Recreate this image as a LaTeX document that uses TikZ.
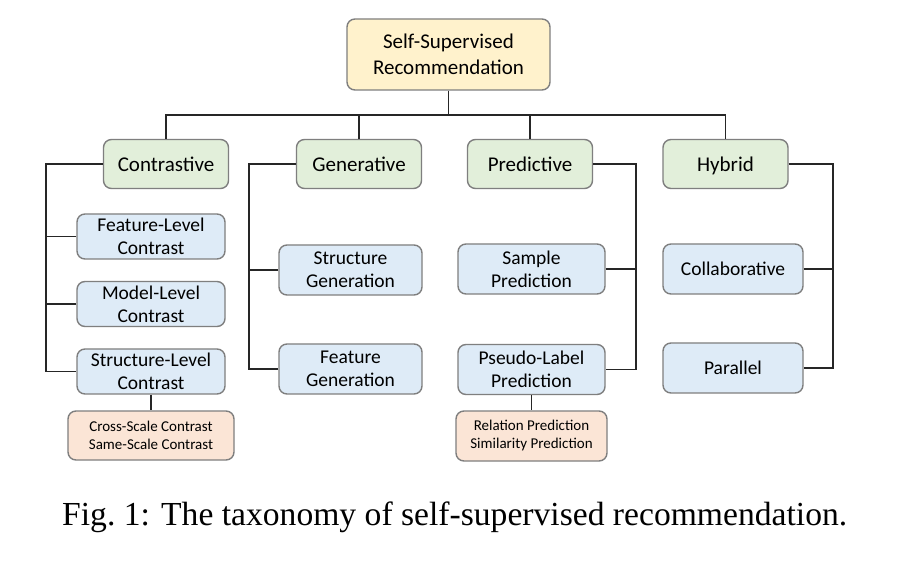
\documentclass[tikz,border=0pt]{standalone}
\usepackage{fontspec}
\setsansfont{Carlito}
\setmainfont{Liberation Serif}
\usepackage{graphicx}
\definecolor{rootfill}{HTML}{FFF2CC}
\definecolor{catfill}{HTML}{E2EFDA}
\definecolor{subfill}{HTML}{DEEBF7}
\definecolor{leaffill}{HTML}{FBE5D6}
\definecolor{boxline}{HTML}{7F7F7F}
\definecolor{wire}{HTML}{262626}
\begin{document}
\begin{tikzpicture}[x=1pt,y=-1pt,
  box/.style={draw=boxline,line width=1.4pt,rounded corners=8pt,align=center,inner sep=0pt,font=\sffamily},
  rootbox/.style={box,fill=rootfill,minimum width=203pt,minimum height=71pt,font=\sffamily\fontsize{21}{25.5}\selectfont},
  catbox/.style={box,fill=catfill,minimum width=125pt,minimum height=49pt,text height=16pt,text depth=1pt,font=\sffamily\fontsize{21}{25}\selectfont},
  subbox/.style={box,fill=subfill,minimum height=48pt,font=\sffamily\fontsize{19.5}{23}\selectfont},
  onebox/.style={subbox,text height=14.5pt,text depth=1pt},
  leafbox/.style={box,fill=leaffill,minimum height=49pt,font=\sffamily\fontsize{15}{18}\selectfont},
  wireline/.style={draw=wire,line width=1.1pt}]
\useasboundingbox (0,0) rectangle (898,564);
\fill[white] (0,0) rectangle (898,564);

\node[rootbox] (root) at (448.5,54.5) {Self-Supervised\\Recommendation};

\node[catbox] (con) at (166,164) {Contrastive};
\node[catbox] (gen) at (359,164) {Generative};
\node[catbox] (pre) at (530,164) {Predictive};
\node[catbox] (hyb) at (725.5,164) {Hybrid};

\node[subbox,minimum width=148pt,minimum height=45pt] (feat) at (151,236.5) {Feature-Level\\Contrast};
\node[subbox,minimum width=148pt,minimum height=45pt] (model) at (151,304) {Model-Level\\Contrast};
\node[subbox,minimum width=148pt,minimum height=45pt] (struct) at (151,371.5) {Structure-Level\\Contrast};
\node[leafbox,minimum width=166pt] (leafc) at (151,435.5) {Cross-Scale Contrast\\Same-Scale Contrast};

\node[subbox,minimum width=143pt,minimum height=50pt] (sgen) at (350.5,270) {Structure\\Generation};
\node[subbox,minimum width=143pt,minimum height=50pt] (fgen) at (350.5,369) {Feature\\Generation};

\node[subbox,minimum width=147pt,minimum height=50pt] (spred) at (531.5,269) {Sample\\Prediction};
\node[subbox,minimum width=147pt,minimum height=50pt] (ppred) at (531.5,369.5) {Pseudo-Label\\Prediction};
\node[leafbox,minimum width=151pt,minimum height=50pt] (leafp) at (531.5,436) {Relation Prediction\\Similarity Prediction};

\node[onebox,minimum width=140pt,minimum height=50pt] (coll) at (733,269) {Collaborative};
\node[onebox,minimum width=140pt,minimum height=50pt] (par) at (733,368) {Parallel};

% top bus
\coordinate (bus) at (0,115);
\path[wireline] (root.south) -- (root.south|-bus);
\path[wireline] (con.north) -- (con.north|-bus) -- (hyb.north|-bus) -- (hyb.north);
\path[wireline] (gen.north) -- (gen.north|-bus);
\path[wireline] (pre.north) -- (pre.north|-bus);

% contrastive
\coordinate (cl) at (46,0);
\path[wireline] (con.west) -- (cl|-con.west) -- (cl|-struct.west) -- (struct.west);
\path[wireline] (feat.west) -- (cl|-feat.west);
\path[wireline] (model.west) -- (cl|-model.west);
\path[wireline] (struct.south) -- (leafc.north);

% generative
\coordinate (gl) at (249,0);
\path[wireline] (gen.west) -- (gl|-gen.west) -- (gl|-fgen.west) -- (fgen.west);
\path[wireline] (sgen.west) -- (gl|-sgen.west);

% predictive
\coordinate (pr) at (636,0);
\path[wireline] (pre.east) -- (pr|-pre.east) -- (pr|-ppred.east) -- (ppred.east);
\path[wireline] (spred.east) -- (pr|-spred.east);
\path[wireline] (ppred.south) -- (leafp.north);

% hybrid
\coordinate (hr) at (833,0);
\path[wireline] (hyb.east) -- (hr|-hyb.east) -- (hr|-par.east) -- (par.east);
\path[wireline] (coll.east) -- (hr|-coll.east);

\node[anchor=base west,inner sep=0pt] (cap) at (62,525) {\resizebox{785pt}{!}{\fontsize{28}{32}\selectfont Fig.~1: The taxonomy of self-supervised recommendation.}};
\end{tikzpicture}
\end{document}
